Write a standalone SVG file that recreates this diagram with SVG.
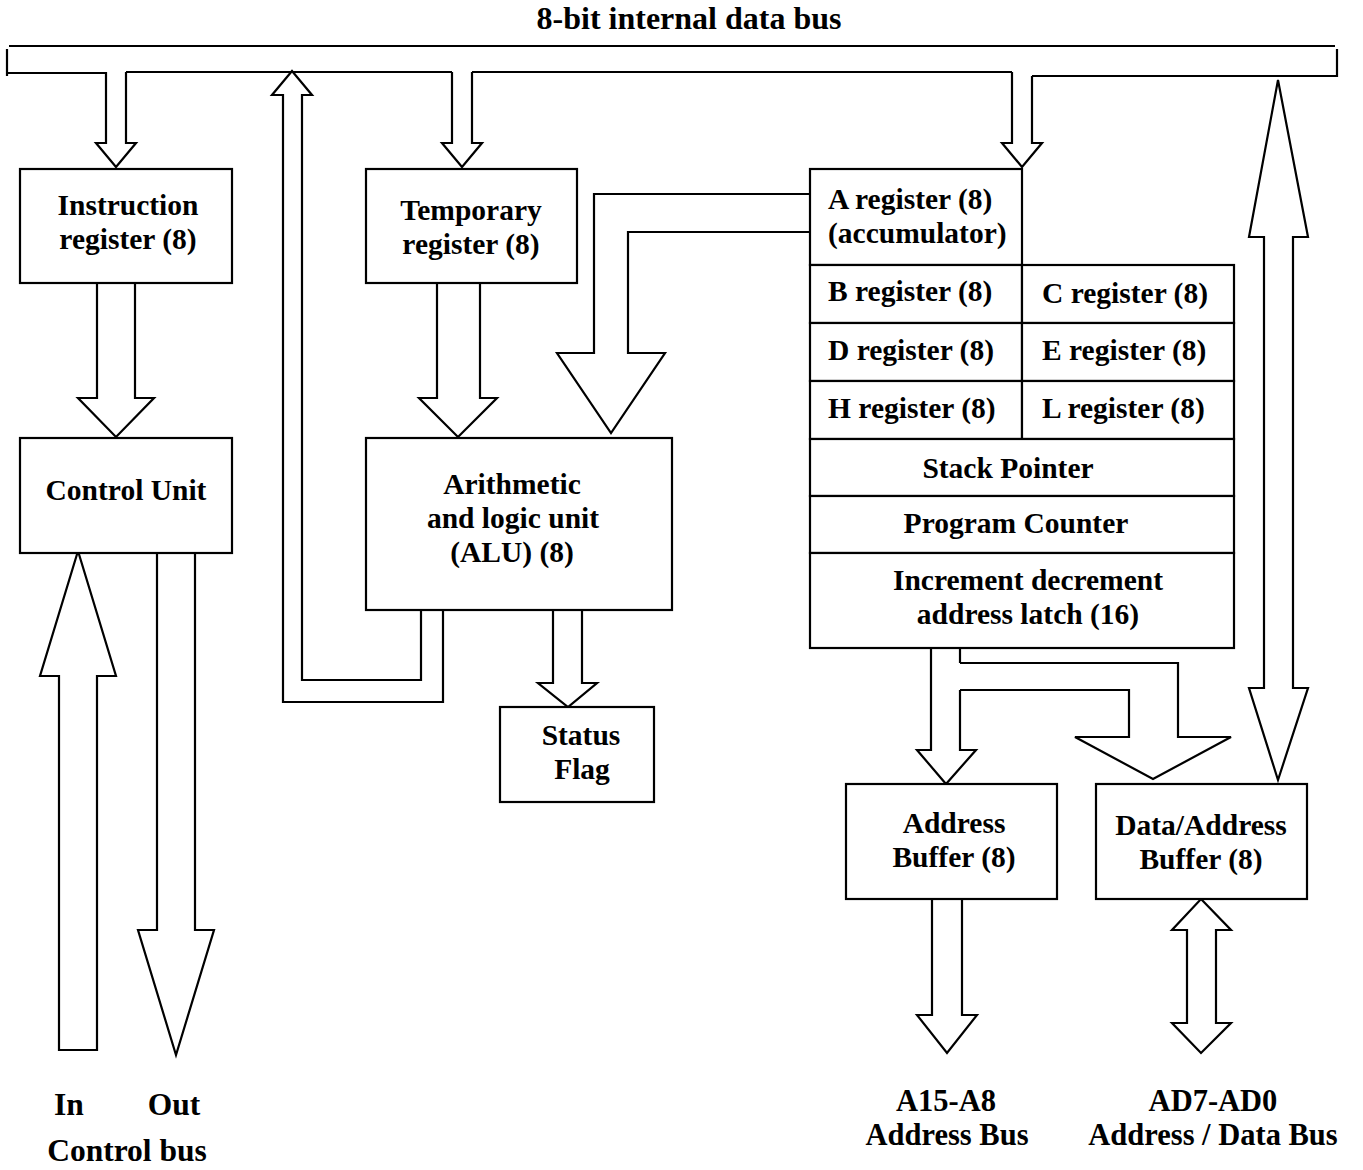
<svg xmlns="http://www.w3.org/2000/svg" width="1363" height="1170" viewBox="0 0 1363 1170">
<style>
.ln{fill:none;stroke:#000;stroke-width:2.2;stroke-linejoin:miter}
.bx{fill:#fff;stroke:#000;stroke-width:2.2}
text{font-family:"Liberation Serif","Times New Roman",serif;font-weight:bold;font-size:29.5px;fill:#000}
.c{text-anchor:middle}
.big{font-size:31.5px}
.bus{font-size:30.5px}
</style>
<rect width="1363" height="1170" fill="#fff"/>
<text id="title" class="c" x="689" y="29" style="font-size:32px">8-bit internal data bus</text>
<g id="connectors">
  <!-- internal data bus -->
  <path class="ln" d="M9,46 H1335"/>
  <path class="ln" d="M7,49 V76"/>
  <path class="ln" d="M1337,49 V77"/>
  <path class="ln" d="M7,73 H106"/>
  <path class="ln" d="M126,72 H452"/>
  <path class="ln" d="M472,72 H1012"/>
  <path class="ln" d="M1032,76 H1338"/>
  <!-- bus to instruction register -->
  <path class="ln" d="M106,72 V143 H96 L116,167 L136,143 H126 V72"/>
  <!-- bus to temporary register -->
  <path class="ln" d="M452,72 V143 H442 L462,167 L482,143 H472 V72"/>
  <!-- bus to A register -->
  <path class="ln" d="M1012,72 V143 H1002 L1022,167 L1042,143 H1032 V76"/>
  <!-- ALU feedback to bus -->
  <path class="ln" d="M443,608 V702 H283 V95 H272 L292,71 L312,95 H302 V680 H421 V603"/>
  <!-- IR to control unit -->
  <path class="ln" d="M97,283 V398 H78 L116,437 L154,398 H135 V283"/>
  <!-- temporary to ALU -->
  <path class="ln" d="M437,283 V398 H419 L458,437 L497,398 H480 V283"/>
  <!-- A register to ALU -->
  <path class="ln" d="M810,194 H594 V353 H557 L611,433 L665,353 H628 V232 H810"/>
  <!-- ALU to status flag -->
  <path class="ln" d="M553,610 V683 H538 L568,707 L597,683 H582 V610"/>
  <!-- right bus to data/address buffer -->
  <path class="ln" d="M1264,688 V237 H1249 L1278,80 L1308,237 H1293 V688 H1308 L1278,780 L1249,688 Z"/>
  <!-- increment latch to address buffer -->
  <path class="ln" d="M931,648 V750 H917 L946,784 L976,750 H960 V690"/>
  <path class="ln" d="M960,648 V663"/>
  <!-- branch to data/address buffer -->
  <path class="ln" d="M960,663 H1178 V737 H1231 L1153,779 L1075,737 H1129 V690 H960"/>
  <!-- address buffer to address bus -->
  <path class="ln" d="M932,899 V1015 H917 L947,1053 L977,1015 H962 V899"/>
  <!-- data/address buffer bidirectional -->
  <path class="ln" d="M1201,899 L1231,930 H1216 V1023 H1231 L1201,1053 L1172,1023 H1187 V930 H1172 Z"/>
  <!-- control bus in -->
  <path class="ln" d="M59,1050 V676 H40 L78,551 L116,676 H97 V1050 Z"/>
  <!-- control bus out -->
  <path class="ln" d="M157,553 V930 H138 L176,1055 L214,930 H195 V553"/>
</g>
<g id="instruction-register">
  <rect class="bx" x="20" y="169" width="212" height="114"/>
  <text class="c" x="128" y="215">Instruction</text>
  <text class="c" x="128" y="249">register (8)</text>
</g>
<g id="temporary-register">
  <rect class="bx" x="366" y="169" width="211" height="114"/>
  <text class="c" x="471" y="220">Temporary</text>
  <text class="c" x="471" y="254">register (8)</text>
</g>
<g id="control-unit">
  <rect class="bx" x="20" y="438" width="212" height="115"/>
  <text class="c" x="126" y="500">Control Unit</text>
</g>
<g id="alu">
  <rect class="bx" x="366" y="438" width="306" height="172"/>
  <text class="c" x="512" y="494">Arithmetic</text>
  <text class="c" x="513" y="528">and logic unit</text>
  <text class="c" x="512" y="562">(ALU) (8)</text>
</g>
<g id="status-flag">
  <rect class="bx" x="500" y="707" width="154" height="95"/>
  <text class="c" x="581" y="745">Status</text>
  <text class="c" x="582" y="779">Flag</text>
</g>
<g id="a-register">
  <rect class="bx" x="810" y="169" width="212" height="96"/>
  <text x="828" y="209">A register (8)</text>
  <text x="828" y="243">(accumulator)</text>
</g>
<g id="b-register">
  <rect class="bx" x="810" y="265" width="212" height="58"/>
  <text x="828" y="301">B register (8)</text>
</g>
<g id="c-register">
  <rect class="bx" x="1022" y="265" width="212" height="58"/>
  <text x="1042" y="303">C register (8)</text>
</g>
<g id="d-register">
  <rect class="bx" x="810" y="323" width="212" height="58"/>
  <text x="828" y="360">D register (8)</text>
</g>
<g id="e-register">
  <rect class="bx" x="1022" y="323" width="212" height="58"/>
  <text x="1042" y="360">E register (8)</text>
</g>
<g id="h-register">
  <rect class="bx" x="810" y="381" width="212" height="58"/>
  <text x="828" y="418">H register (8)</text>
</g>
<g id="l-register">
  <rect class="bx" x="1022" y="381" width="212" height="58"/>
  <text x="1042" y="418">L register (8)</text>
</g>
<g id="stack-pointer">
  <rect class="bx" x="810" y="439" width="424" height="57"/>
  <text class="c" x="1008" y="478">Stack Pointer</text>
</g>
<g id="program-counter">
  <rect class="bx" x="810" y="496" width="424" height="57"/>
  <text class="c" x="1016" y="533">Program Counter</text>
</g>
<g id="inc-dec-latch">
  <rect class="bx" x="810" y="553" width="424" height="95"/>
  <text class="c" x="1028" y="590">Increment decrement</text>
  <text class="c" x="1028" y="624">address latch (16)</text>
</g>
<g id="address-buffer">
  <rect class="bx" x="846" y="784" width="211" height="115"/>
  <text class="c" x="954" y="833">Address</text>
  <text class="c" x="954" y="867">Buffer (8)</text>
</g>
<g id="data-address-buffer">
  <rect class="bx" x="1096" y="784" width="211" height="115"/>
  <text class="c" x="1201" y="835">Data/Address</text>
  <text class="c" x="1201" y="869">Buffer (8)</text>
</g>
<g id="labels">
  <text class="c big" x="69" y="1115">In</text>
  <text class="c big" x="174" y="1115">Out</text>
  <text class="c big" x="127" y="1161">Control bus</text>
  <text class="c bus" x="946" y="1111">A15-A8</text>
  <text class="c bus" x="947" y="1145">Address Bus</text>
  <text class="c bus" x="1213" y="1111">AD7-AD0</text>
  <text class="c bus" x="1213" y="1145">Address / Data Bus</text>
</g>
</svg>
